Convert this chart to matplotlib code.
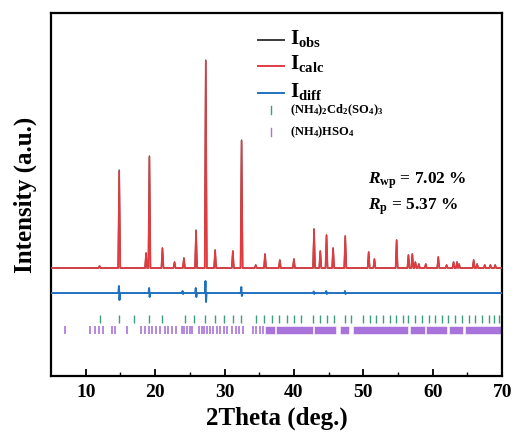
import matplotlib
matplotlib.use("Agg")
import matplotlib.pyplot as plt

plt.rcParams['mathtext.fontset'] = 'custom'
plt.rcParams['mathtext.rm'] = 'Liberation Serif:bold'
plt.rcParams['mathtext.bf'] = 'Liberation Serif:bold'
plt.rcParams['mathtext.it'] = 'Liberation Serif:italic:bold'
plt.rcParams['font.family'] = ['Liberation Serif']
plt.rcParams['font.weight'] = 'bold'

# ---- data (intensity in arbitrary units) ----
peak_pos = [12.0, 14.83, 18.7, 19.18, 21.06, 22.8, 24.15, 25.9, 27.3, 28.65,
            31.2, 32.46, 34.5, 35.84, 37.97, 40.0, 42.9, 43.8, 44.7, 45.65,
            47.4, 50.77, 51.6, 54.8, 56.5, 57.06, 57.5, 58.0, 59.0, 60.8,
            62.0, 63.0, 63.5, 63.8, 65.9, 66.4, 67.5, 68.3, 69.0]
calc_height = [2, 97, 15, 111, 20, 6, 10, 37, 207, 18,
               17, 127, 3, 14, 8, 9, 39, 17, 33, 20,
               32, 16, 9, 28, 13, 14, 6, 4, 4, 11,
               3, 6, 6, 4, 8, 4, 3, 3, 3]
obs_height = [2, 98, 15, 112, 20, 6, 10, 38, 208, 18,
              17, 128, 3, 14, 8, 9, 39, 17, 33, 20,
              32, 16, 9, 28, 13, 14, 6, 4, 4, 11,
              3, 6, 6, 4, 8, 4, 3, 3, 3]
background = 0.0

diff_pos = [14.83, 19.18, 24.0, 25.9, 27.3, 32.46, 42.9, 44.7, 47.4]
diff_up = [7, 5, 2, 5, 12, 6, 1.5, 2, 2]
diff_down = [7, 4, 1, 4, 9, 3, 1, 1, 1]
diff_offset = -25

phase1_ticks = [12.03, 14.78, 17.0, 19.13, 20.97, 24.25, 25.55, 27.25, 28.6, 29.9,
                31.2, 32.42, 34.6, 35.7, 36.8, 37.87, 38.99, 40.04, 41.0, 42.8,
                43.8, 44.78, 45.75, 47.3, 48.26, 49.96, 50.9, 51.9, 52.86, 53.8,
                54.78, 55.75, 56.4, 57.4, 58.4, 59.4, 60.33, 61.3, 62.27, 63.23,
                64.2, 65.17, 66.13, 67.1, 68.07, 68.8, 69.5]
phase2_ticks = [6.96, 10.58, 11.3, 11.93, 12.5, 13.72, 14.2, 15.99, 17.93, 18.5,
                19.09, 19.6, 20.14, 20.72, 21.45, 21.93, 22.4, 23.04, 23.87, 24.2,
                24.6, 24.97, 25.3, 26.28, 26.77, 27.1, 27.5, 27.87, 28.36, 28.94,
                29.42, 29.9, 30.39, 31.1, 31.6, 32.07, 32.7, 34.1, 34.6, 35.1, 35.5]
# dense reflection bands of phase 2 (start, end)
phase2_bands = [(35.9, 37.25), (37.4, 42.7), (42.9, 46.1), (46.57, 48.0),
                (48.5, 56.5), (56.7, 58.9), (59.1, 62.0), (62.3, 64.4), (64.7, 70.0)]

phase1_y = -51
phase2_y = -62
tick_len = 8

xticks = [10, 20, 30, 40, 50, 60, 70]

# ---- build profiles ----
def profile(pos, heights, w=0.15):
    xs, ys = [5.0], [background]
    for p, h in zip(pos, heights):
        xs += [p - w, p, p + w]
        ys += [background, background + h, background]
    xs.append(70.0)
    ys.append(background)
    return xs, ys

def diff_profile(pos, up, down, w=0.12):
    xs, ys = [5.0], [diff_offset]
    for p, u, d in zip(pos, up, down):
        xs += [p - w, p - w / 3, p + w / 3, p + w]
        ys += [diff_offset, diff_offset + u, diff_offset - d, diff_offset]
    xs.append(70.0)
    ys.append(diff_offset)
    return xs, ys

fig = plt.figure(figsize=(5.15, 4.37), dpi=100)
ax = fig.add_axes([0.099, 0.1396, 0.876, 0.8304])

ox, oy = profile(peak_pos, obs_height)
cx, cy = profile(peak_pos, calc_height)
dx, dy = diff_profile(diff_pos, diff_up, diff_down)

ax.plot(ox, oy, color='#3a3a3a', lw=1.0, zorder=2)
ax.plot(cx, cy, color='#e23b3f', lw=1.2, zorder=3)
ax.plot(dx, dy, color='#2070c0', lw=1.4, zorder=3)

ax.vlines(phase1_ticks, phase1_y - tick_len / 2, phase1_y + tick_len / 2,
          color='#3f9c7c', lw=1.0)
ax.vlines(phase2_ticks, phase2_y - tick_len / 2, phase2_y + tick_len / 2,
          color='#a874dc', lw=1.2)
ax.broken_barh([(s, e - s) for s, e in phase2_bands],
               (phase2_y - tick_len / 2, tick_len), facecolor='#a874dc',
               edgecolor='white', lw=0.4)

ax.set_xlim(5, 70)
ax.set_ylim(-108, 255)
ax.set_xticks(xticks)
ax.set_xticks([15, 25, 35, 45, 55, 65], minor=True)
ax.set_yticks([])
ax.tick_params(axis='x', which='major', direction='in', length=5, width=1.3,
               labelsize=14, pad=6)
ax.tick_params(axis='x', which='minor', direction='in', length=3, width=1.0)
for lab in ax.get_xticklabels():
    lab.set_fontweight('bold')
for sp in ax.spines.values():
    sp.set_linewidth(1.6)

ax.set_xlabel('2Theta (deg.)', fontsize=18, fontweight='bold', labelpad=4)
ax.set_ylabel('Intensity (a.u.)', fontsize=18, fontweight='bold', labelpad=10)

# ---- legend (manual, axes coordinates) ----
tr = ax.transAxes
x0, x1, xt = 0.459, 0.516, 0.530
rows = [(0.926, '#3a3a3a', r'$\mathrm{I_{obs}}$'),
        (0.855, '#e23b3f', r'$\mathrm{I_{calc}}$'),
        (0.780, '#2070c0', r'$\mathrm{I_{diff}}$')]
for y, c, lab in rows:
    ax.plot([x0, x1], [y, y], color=c, lw=1.4, transform=tr)
    ax.text(xt, y + 0.005, lab, transform=tr, fontsize=15, va='center', ha='left')
phase_rows = [(0.733, '#3f9c7c', r'$\mathrm{(NH_4)_2Cd_2(SO_4)_3}$'),
              (0.672, '#a874dc', r'$\mathrm{(NH_4)HSO_4}$')]
for y, c, lab in phase_rows:
    ax.plot([0.487, 0.487], [y - 0.011, y + 0.011], color=c, lw=1.0, transform=tr)
    ax.text(xt, y, lab, transform=tr, fontsize=9, va='center', ha='left')

ax.text(0.703, 0.537, r'$R_{\mathrm{wp}}$ = 7.02 %', transform=tr,
        fontsize=12.5, va='center', ha='left')
ax.text(0.703, 0.466, r'$R_{\mathrm{p}}$ = 5.37 %', transform=tr,
        fontsize=12.5, va='center', ha='left')

fig.savefig('out.png', dpi=100)
